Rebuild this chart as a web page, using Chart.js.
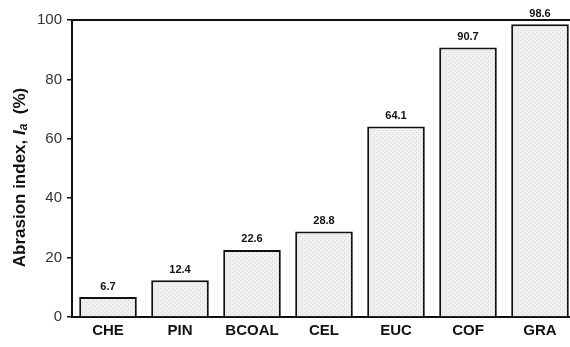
<!DOCTYPE html>
<html>
<head>
<meta charset="utf-8">
<script src="https://cdn.jsdelivr.net/npm/chart.js@4"></script>
<style>
  html, body { margin: 0; padding: 0; background: #fff; overflow: hidden; }
  #wrap { width: 576px; height: 347px; }
</style>
</head>
<body>
<div id="wrap"><canvas id="abrasion"></canvas></div>
<script>
const samples = ['CHE', 'PIN', 'BCOAL', 'CEL', 'EUC', 'COF', 'GRA'];
const abrasionIndex = [6.7, 12.4, 22.6, 28.8, 64.1, 90.7, 98.6];
const yTicks = [0, 20, 40, 60, 80, 100];

// light dotted fill like the printed figure
function makePattern() {
  const c = document.createElement('canvas');
  c.width = 4; c.height = 4;
  const g = c.getContext('2d');
  g.fillStyle = '#f1f1f1';
  g.fillRect(0, 0, 4, 4);
  g.fillStyle = '#d2d2d2';
  g.fillRect(0, 0, 1, 1);
  g.fillRect(2, 2, 1, 1);
  return g.createPattern(c, 'repeat');
}

const extras = {
  id: 'extras',
  afterDatasetsDraw(chart) {
    const ctx = chart.ctx;
    const area = chart.chartArea;
    ctx.save();
    // top frame line
    ctx.strokeStyle = '#111';
    ctx.lineWidth = 2;
    ctx.beginPath();
    ctx.moveTo(area.left, area.top);
    ctx.lineTo(area.right, area.top);
    ctx.stroke();

    // value labels above bars
    ctx.fillStyle = '#111';
    ctx.font = 'bold 11px "Liberation Sans", Arial, sans-serif';
    ctx.textAlign = 'center';
    ctx.textBaseline = 'bottom';
    chart.getDatasetMeta(0).data.forEach((bar, i) => {
      ctx.fillText(abrasionIndex[i].toFixed(1), bar.x, bar.y - 5);
    });

    // y axis title with italic I and subscript a
    const parts = [
      { t: 'Abrasion index, ', f: 'bold 17px "Liberation Sans", Arial, sans-serif', dy: 0 },
      { t: 'I', f: 'bold italic 17px "Liberation Sans", Arial, sans-serif', dy: 0 },
      { t: 'a', f: 'bold italic 12px "Liberation Sans", Arial, sans-serif', dy: 4 },
      { t: '  (%)', f: 'bold 17px "Liberation Sans", Arial, sans-serif', dy: 0 }
    ];
    let total = 0;
    parts.forEach(p => { ctx.font = p.f; p.w = ctx.measureText(p.t).width; total += p.w; });
    ctx.translate(20, (area.top + area.bottom) / 2 + 9);
    ctx.rotate(-Math.PI / 2);
    ctx.textAlign = 'left';
    ctx.textBaseline = 'middle';
    ctx.fillStyle = '#111';
    let x = -total / 2;
    parts.forEach(p => {
      ctx.font = p.f;
      ctx.fillText(p.t, x, p.dy);
      x += p.w;
    });
    ctx.restore();
  }
};

new Chart(document.getElementById('abrasion'), {
  type: 'bar',
  data: {
    labels: samples,
    datasets: [{
      data: abrasionIndex,
      backgroundColor: makePattern(),
      borderColor: '#111',
      borderWidth: 2,
      borderSkipped: 'bottom',
      barPercentage: 0.8,
      categoryPercentage: 1
    }]
  },
  options: {
    responsive: true,
    maintainAspectRatio: false,
    animation: false,
    layout: { padding: { top: 20, right: 0, left: 0, bottom: 0 } },
    plugins: { legend: { display: false }, tooltip: { enabled: false } },
    scales: {
      x: {
        offset: true,
        grid: { display: false, drawTicks: false },
        border: { color: '#111', width: 2 },
        ticks: {
          padding: 5,
          color: '#111',
          font: { family: '"Liberation Sans", Arial, sans-serif', size: 15, weight: 'bold' }
        },
        afterFit(scale) { scale.height = 30; }
      },
      y: {
        min: 0,
        max: 100,
        afterBuildTicks(scale) { scale.ticks = yTicks.map(v => ({ value: v })); },
        grid: { drawOnChartArea: false, tickLength: 5, color: '#111', lineWidth: 1.5 },
        border: { color: '#111', width: 2 },
        ticks: {
          padding: 5,
          color: '#333',
          font: { family: '"Liberation Sans", Arial, sans-serif', size: 15 }
        },
        afterFit(scale) { scale.width = 72; }
      }
    }
  },
  plugins: [extras]
});
</script>
</body>
</html>
